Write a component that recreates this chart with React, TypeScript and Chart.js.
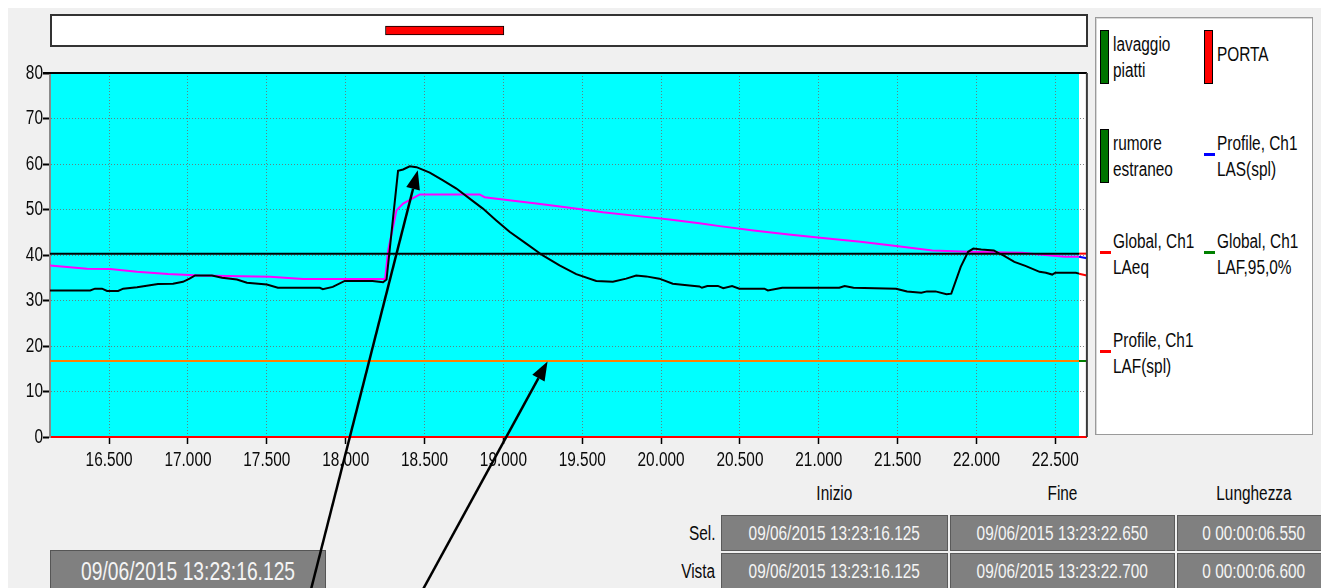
import React, { useEffect, useRef } from "react";
import { Chart, registerables } from "chart.js";
Chart.register(...registerables);

const FONT = '"Liberation Sans", Arial, sans-serif';
const K = 0.77; // horizontal condensing of the narrow GUI font

// ---- time window (seconds) ----
const VIEW_START = 16.125;
const VIEW_END = 22.7;
const SEL_START = 16.125;
const SEL_END = 22.65;

const xTickValues = [16.5, 17, 17.5, 18, 18.5, 19, 19.5, 20, 20.5, 21, 21.5, 22, 22.5];
const yTickValues = [0, 10, 20, 30, 40, 50, 60, 70, 80];

// Profile, Ch1 LAF(spl)
const lafTimes = [
  16.125, 16.38, 16.41, 16.455, 16.487, 16.557, 16.589, 16.677, 16.81, 16.905, 16.968, 17.01, 17.045,
  17.152, 17.216, 17.31, 17.374, 17.5, 17.57, 17.836, 17.855, 17.918, 17.994, 18.17, 18.237, 18.259,
  18.332, 18.364, 18.406, 18.449, 18.533, 18.617, 18.702, 18.786, 18.87, 18.955, 19.039, 19.145, 19.25,
  19.356, 19.462, 19.589, 19.694, 19.779, 19.842, 19.905, 19.989, 20.074, 20.18, 20.243, 20.259,
  20.293, 20.36, 20.394, 20.45, 20.496, 20.655, 20.677, 20.768, 21.13, 21.164, 21.22, 21.49, 21.56,
  21.65, 21.686, 21.74, 21.81, 21.84, 21.9, 21.947, 21.98, 22.03, 22.11, 22.14, 22.17, 22.24, 22.31,
  22.4, 22.44, 22.48, 22.5, 22.63, 22.65, 22.7,
];
const lafValues = [
  32.2, 32.2, 32.6, 32.6, 32.1, 32.1, 32.6, 32.9, 33.6, 33.7, 34.1, 34.8, 35.5,
  35.5, 35.0, 34.6, 33.9, 33.5, 32.8, 32.8, 32.5, 33.0, 34.3, 34.3, 34.0, 34.6,
  58.5, 58.8, 59.5, 59.3, 58.1, 56.4, 54.6, 52.4, 50.2, 47.6, 45.1, 42.5, 39.9,
  37.7, 35.8, 34.3, 34.1, 34.8, 35.5, 35.3, 34.8, 33.7, 33.3, 33.1, 32.8,
  33.2, 33.2, 32.7, 33.2, 32.6, 32.6, 32.2, 32.8, 32.8, 33.2, 32.8, 32.6, 32.0,
  31.7, 32.0, 32.0, 31.4, 31.5, 37.4, 40.7, 41.4, 41.2, 41.0, 40.4, 39.9, 38.5, 37.6,
  36.3, 36.1, 35.7, 36.1, 36.1, 35.9, 35.5,
];

// Profile, Ch1 LAS(spl)
const lasTimes = [
  16.125, 16.36, 16.506, 16.677, 16.873, 17.076, 17.52, 17.73, 18.25, 18.269, 18.322, 18.364, 18.47,
  18.849, 18.881, 18.997, 19.209, 19.42, 19.631, 19.842, 20.053, 20.243, 20.36, 20.587, 20.81, 21.04,
  21.265, 21.49, 21.72, 21.947, 22.29, 22.4, 22.56, 22.65, 22.7,
];
const lasValues = [
  37.7, 37.0, 36.9, 36.3, 35.8, 35.5, 35.2, 34.7, 34.7, 41.0, 49.8, 51.3, 53.3,
  53.3, 52.7, 52.2, 51.3, 50.4, 49.4, 48.6, 47.8, 47.0, 46.4, 45.4, 44.5, 43.7,
  42.9, 42.0, 41.0, 40.7, 40.5, 40.1, 39.6, 39.6, 39.3,
];

const laeqGlobal = 40.3; // Global, Ch1 LAeq
const laf95Global = 16.7; // Global, Ch1 LAF,95,0%

// event markers
const markerNames = ["PORTA"];
const markerStart = [18.25];
const markerEnd = [19.0];

// annotation arrows (data units; tails lie below the plot)
const arrowTailX = [17.78, 18.49];
const arrowTailY = [-33.5, -33.5];
const arrowTipX = [18.457, 19.28];
const arrowTipY = [58.6, 16.6];

// legend
const legendNames = [
  ["lavaggio", "piatti"],
  ["PORTA"],
  ["rumore", "estraneo"],
  ["Profile, Ch1", "LAS(spl)"],
  ["Global, Ch1", "LAeq"],
  ["Global, Ch1", "LAF,95,0%"],
  ["Profile, Ch1", "LAF(spl)"],
];
const legendKinds = ["bar", "bar", "bar", "dash", "dash", "dash", "dash"];
const legendColors = ["#007400", "#ff0000", "#007400", "#0000ff", "#ff0000", "#008000", "#ff0000"];

// time table
const tableCols = ["Inizio", "Fine", "Lunghezza"];
const tableRows = ["Sel.", "Vista"];
const tableValues = [
  ["09/06/2015 13:23:16.125", "09/06/2015 13:23:22.650", "0 00:00:06.550"],
  ["09/06/2015 13:23:16.125", "09/06/2015 13:23:22.700", "0 00:00:06.600"],
];
const cursorLabel = "09/06/2015 13:23:16.125";

function pts(t: number[], v: number[]) {
  return t.map((x, i) => ({ x, y: v[i] }));
}

function lineDs(label: string, data: any[], inside: string, outside: string, order: number) {
  return {
    label,
    data,
    borderColor: inside,
    borderWidth: 2,
    pointRadius: 0,
    tension: 0,
    order,
    segment: {
      borderColor: (c: any) => (c.p0.parsed.x >= SEL_END - 1e-6 ? outside : inside),
    },
  };
}

// draw a scale's tick labels horizontally condensed (narrow GUI font look)
function condense(scale: any, k: number) {
  if (scale.__condensed) return;
  const orig = scale.drawLabels;
  scale.drawLabels = function (area: any) {
    const ctx = this.ctx as CanvasRenderingContext2D;
    const f = ctx.fillText;
    (ctx as any).fillText = function (t: string, x: number, y: number) {
      ctx.save();
      ctx.translate(x, y);
      ctx.scale(k, 1);
      f.call(ctx, t, 0, 0);
      ctx.restore();
    };
    try {
      orig.call(this, area);
    } finally {
      delete (ctx as any).fillText;
    }
  };
  scale.__condensed = true;
}

function Cond({ children, origin = "center" }: { children: any; origin?: string }) {
  return (
    <span
      style={{
        display: "inline-block",
        transform: `scaleX(${K})`,
        transformOrigin: origin,
        whiteSpace: "nowrap",
      }}
    >
      {children}
    </span>
  );
}

export default function App() {
  const mainRef = useRef<HTMLCanvasElement>(null);
  const topRef = useRef<HTMLCanvasElement>(null);

  useEffect(() => {
    const bgPlugin = {
      id: "bg",
      beforeDraw(chart: any) {
        const { ctx, chartArea: a, scales } = chart;
        ctx.save();
        ctx.fillStyle = "#ffffff";
        ctx.fillRect(a.left, a.top, a.right - a.left, a.bottom - a.top);
        const x0 = scales.x.getPixelForValue(SEL_START);
        const x1 = scales.x.getPixelForValue(SEL_END);
        ctx.fillStyle = "#00ffff";
        ctx.fillRect(x0, a.top, x1 - x0, a.bottom - a.top);
        ctx.restore();
      },
      afterDatasetsDraw(chart: any) {
        const { ctx, chartArea: a } = chart;
        ctx.save();
        ctx.strokeStyle = "#000";
        ctx.lineWidth = 2;
        ctx.beginPath();
        ctx.moveTo(a.left - 7, a.top);
        ctx.lineTo(a.right, a.top);
        ctx.stroke();
        ctx.strokeStyle = "#3a3a3a";
        ctx.beginPath();
        ctx.moveTo(a.right, a.top);
        ctx.lineTo(a.right, a.bottom);
        ctx.stroke();
        ctx.restore();
      },
    };
    const arrowPlugin = {
      id: "arrows",
      afterDraw(chart: any) {
        const { ctx, scales } = chart;
        const sx = scales.x, sy = scales.y;
        ctx.save();
        ctx.strokeStyle = "#000";
        ctx.fillStyle = "#000";
        ctx.lineWidth = 2.5;
        for (let i = 0; i < arrowTipX.length; i++) {
          const x0 = sx.getPixelForValue(arrowTailX[i]);
          const y0 = sy.getPixelForValue(arrowTailY[i]);
          const x1 = sx.getPixelForValue(arrowTipX[i]);
          const y1 = sy.getPixelForValue(arrowTipY[i]);
          const ang = Math.atan2(y1 - y0, x1 - x0);
          const L = 19, W = 7;
          const bx = x1 - L * Math.cos(ang);
          const by = y1 - L * Math.sin(ang);
          ctx.beginPath();
          ctx.moveTo(x0, y0);
          ctx.lineTo(bx, by);
          ctx.stroke();
          ctx.beginPath();
          ctx.moveTo(x1, y1);
          ctx.lineTo(bx + W * Math.sin(ang), by - W * Math.cos(ang));
          ctx.lineTo(bx - W * Math.sin(ang), by + W * Math.cos(ang));
          ctx.closePath();
          ctx.fill();
        }
        ctx.restore();
      },
    };

    const gridOpts = (tw: number) => ({
      color: "rgba(110,110,110,0.85)",
      lineWidth: 1,
      tickLength: 7,
      tickColor: "#000",
      tickWidth: tw,
      tickBorderDash: [],
    });

    const main = new Chart(mainRef.current as HTMLCanvasElement, {
      type: "line",
      data: {
        datasets: [
          lineDs("Global, Ch1 LAeq", [
            { x: VIEW_START, y: laeqGlobal },
            { x: SEL_END, y: laeqGlobal },
            { x: VIEW_END, y: laeqGlobal },
          ], "#000000", "#ff0000", 0),
          lineDs("Profile, Ch1 LAF(spl)", pts(lafTimes, lafValues), "#000000", "#ff0000", 1),
          lineDs("Profile, Ch1 LAS(spl)", pts(lasTimes, lasValues), "#ff00ff", "#0000ff", 2),
          lineDs("Global, Ch1 LAF,95,0%", [
            { x: VIEW_START, y: laf95Global },
            { x: SEL_END, y: laf95Global },
            { x: VIEW_END, y: laf95Global },
          ], "#ff8000", "#008000", 3),
        ] as any,
      },
      options: {
        animation: false,
        responsive: true,
        maintainAspectRatio: false,
        layout: { padding: { left: 0, right: 2, top: 15, bottom: 108 } },
        plugins: { legend: { display: false }, tooltip: { enabled: false } },
        scales: {
          x: {
            type: "linear",
            min: VIEW_START,
            max: VIEW_END,
            afterBuildTicks: (s: any) => {
              s.ticks = xTickValues.map((v) => ({ value: v }));
              condense(s, K);
            },
            afterFit: (s: any) => {
              s.height = 43;
            },
            ticks: {
              autoSkip: false,
              maxRotation: 0,
              padding: 4,
              color: "#0a0a0a",
              font: { family: FONT, size: 20 },
              callback: (v: any) => Number(v).toFixed(3),
            },
            grid: gridOpts(1.5),
            border: { display: true, color: "#ff0000", width: 2, dash: [1, 2] },
          },
          y: {
            min: 0,
            max: 80,
            afterBuildTicks: (s: any) => {
              s.ticks = yTickValues.map((v) => ({ value: v }));
              condense(s, K);
            },
            afterFit: (s: any) => {
              s.width = 42;
            },
            ticks: {
              padding: 0,
              color: "#0a0a0a",
              font: { family: FONT, size: 20 },
            },
            grid: gridOpts(2),
            border: { display: true, color: "#8a8a8a", width: 2, dash: [1, 2] },
          },
        },
      } as any,
      plugins: [bgPlugin, arrowPlugin],
    });

    const boxPlugin = {
      id: "box",
      beforeDraw(chart: any) {
        const { ctx, chartArea: a } = chart;
        ctx.save();
        ctx.fillStyle = "#ffffff";
        ctx.fillRect(a.left + 1, a.top, a.right - a.left - 2, a.bottom - a.top);
        ctx.restore();
      },
      afterDraw(chart: any) {
        const { ctx, chartArea: a } = chart;
        ctx.save();
        ctx.strokeStyle = "#333";
        ctx.lineWidth = 2;
        ctx.strokeRect(a.left + 1, a.top, a.right - a.left - 2, a.bottom - a.top);
        ctx.restore();
      },
    };

    const top = new Chart(topRef.current as HTMLCanvasElement, {
      type: "bar",
      data: {
        labels: markerNames,
        datasets: [
          {
            data: markerNames.map((_, i) => [markerStart[i], markerEnd[i]]),
            backgroundColor: "#ff0000",
            borderColor: "#000",
            borderWidth: 1,
            borderSkipped: false,
            barThickness: 9,
          },
        ] as any,
      },
      options: {
        indexAxis: "y",
        animation: false,
        responsive: true,
        maintainAspectRatio: false,
        layout: { padding: { left: 42, right: 2, top: 2, bottom: 2 } },
        plugins: { legend: { display: false }, tooltip: { enabled: false } },
        scales: {
          x: { type: "linear", min: VIEW_START, max: VIEW_END, display: false },
          y: { display: false },
        },
      } as any,
      plugins: [boxPlugin],
    });

    return () => {
      main.destroy();
      top.destroy();
    };
  }, []);

  const abs = (l: number, t: number, w: number, h: number): React.CSSProperties => ({
    position: "absolute",
    left: l,
    top: t,
    width: w,
    height: h,
  });

  const colX = [713, 942, 1169];
  const colW = [227, 225, 154];
  const rowY = [507, 545];
  const rowH = [36, 37];

  const flexCenter: React.CSSProperties = {
    display: "flex",
    alignItems: "center",
    justifyContent: "center",
    whiteSpace: "nowrap",
  };

  return (
    <div
      style={{
        position: "fixed",
        left: 8,
        top: 8,
        width: 1313,
        height: 580,
        background: "#f0f0f0",
        overflow: "hidden",
        fontFamily: FONT,
        color: "#0a0a0a",
      }}
    >
      {/* legend */}
      <div
        style={{
          ...abs(1087, 9, 218, 418),
          boxSizing: "border-box",
          background: "#fff",
          border: "1px solid #9a9a9a",
          boxShadow: "inset 1px 1px 0 #d8d8d8",
        }}
      />
      {legendNames.map((lines, i) => {
        const col = i % 2;
        const row = Math.floor(i / 2);
        const cy = 49 + 98.5 * row;
        const mx = 1092 + 104 * col;
        const tx = 1105 + 104 * col;
        const marker =
          legendKinds[i] === "bar" ? (
            <div
              style={{
                ...abs(mx, cy - 27, 9, 54),
                boxSizing: "border-box",
                background: legendColors[i],
                border: "1px solid #000",
              }}
            />
          ) : (
            <div style={{ ...abs(mx, cy - 3, 11, 3), background: legendColors[i] }} />
          );
        const th = lines.length * 26;
        return (
          <React.Fragment key={i}>
            {marker}
            <div
              style={{
                position: "absolute",
                left: tx,
                top: cy - th / 2 - (lines.length === 1 ? 3 : 0),
                fontSize: 20,
                lineHeight: "26px",
                whiteSpace: "nowrap",
              }}
            >
              {lines.map((l, j) => (
                <div key={j}>
                  <Cond origin="left center">{l}</Cond>
                </div>
              ))}
            </div>
          </React.Fragment>
        );
      })}

      {/* table */}
      {tableCols.map((c, i) => (
        <div
          key={c}
          style={{
            ...abs(colX[i], 472, colW[i], 26),
            ...flexCenter,
            fontSize: 20,
          }}
        >
          <Cond>{c}</Cond>
        </div>
      ))}
      {tableRows.map((r, ri) => (
        <React.Fragment key={r}>
          <div
            style={{
              ...abs(600, rowY[ri], 107, rowH[ri]),
              ...flexCenter,
              justifyContent: "flex-end",
              fontSize: 20,
            }}
          >
            <Cond origin="right center">{r}</Cond>
          </div>
          {tableValues[ri].map((v, ci) => (
            <div
              key={ci}
              style={{
                ...abs(colX[ci], rowY[ri], colW[ci], rowH[ri]),
                ...flexCenter,
                boxSizing: "border-box",
                background: "#808080",
                border: "1px solid #5a5a5a",
                color: "#f4f4f4",
                fontSize: 20,
              }}
            >
              <Cond>{v}</Cond>
            </div>
          ))}
        </React.Fragment>
      ))}

      {/* cursor time box */}
      <div
        style={{
          ...abs(42, 542, 276, 44),
          ...flexCenter,
          boxSizing: "border-box",
          background: "#808080",
          border: "1px solid #555",
          color: "#f4f4f4",
          fontSize: 25,
          paddingBottom: 2,
        }}
      >
        <Cond>{cursorLabel}</Cond>
      </div>

      {/* charts */}
      <div style={{ ...abs(0, 5, 1082, 35), pointerEvents: "none" }}>
        <canvas ref={topRef} />
      </div>
      <div style={{ ...abs(0, 50, 1082, 530), pointerEvents: "none" }}>
        <canvas ref={mainRef} />
      </div>
    </div>
  );
}
